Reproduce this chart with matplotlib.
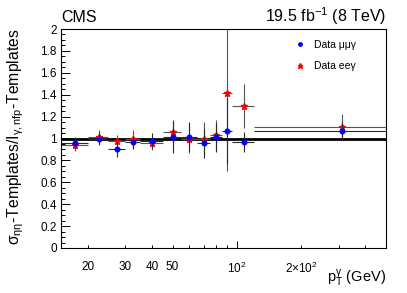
import numpy as np
import matplotlib
matplotlib.use("Agg")
import matplotlib.pyplot as plt
from matplotlib.ticker import FixedLocator, FixedFormatter, MultipleLocator

### données
bin_edges = [15, 20, 25, 30, 35, 45, 55, 65, 75, 85, 95, 120, 500]
mumu_val = [0.962, 1.00, 0.90, 0.965, 0.98, 1.014, 1.017, 0.956, 1.01, 1.07, 0.968, 1.07]
mumu_err = [0.05, 0.06, 0.065, 0.06, 0.07, 0.15, 0.13, 0.13, 0.13, 0.30, 0.09, 0.08]
ee_val = [0.94, 1.017, 0.98, 1.00, 0.956, 1.06, 0.995, 0.998, 1.03, 1.42, 1.30, 1.105]
ee_err = [0.05, 0.06, 0.05, 0.08, 0.06, 0.11, 0.13, 0.15, 0.14, 0.72, 0.20, 0.12]
xtick_vals = [20, 30, 40, 50, 100, 200]
xtick_labels = ['20', '30', '40', '50', r'$10^{2}$', r'$2{\times}10^{2}$']
xminor_vals = [60, 70, 80, 90, 300, 400]

edges = np.array(bin_edges, dtype=float)
centers = 0.5 * (edges[1:] + edges[:-1])
half_w = 0.5 * (edges[1:] - edges[:-1])

plt.rcParams['font.family'] = ['Liberation Sans', 'DejaVu Sans']
plt.rcParams['mathtext.fontset'] = 'custom'
plt.rcParams['mathtext.rm'] = 'Liberation Sans'
plt.rcParams['mathtext.it'] = 'Liberation Sans'
plt.rcParams['mathtext.bf'] = 'Liberation Sans:bold'

fig = plt.figure(figsize=(4.07, 2.93), dpi=100)
ax = fig.add_axes([61/407, 1 - 248/293, 325/407, 219/293])

ax.set_xscale('log')
ax.set_xlim(15, 500)
ax.set_ylim(0, 2)

### ligne de référence à 1
ax.axhline(1.0, color='black', lw=2.0, zorder=1)

eb_mumu = ax.errorbar(centers, mumu_val, xerr=half_w, yerr=mumu_err, fmt='o', color='blue',
                      ms=3.3, ecolor='#2a2a2a', elinewidth=0.8, capsize=0, zorder=3)
eb_ee = ax.errorbar(centers, ee_val, xerr=half_w, yerr=ee_err, fmt='*', color='red',
                    ms=5.0, ecolor='#555555', elinewidth=0.8, capsize=0, zorder=2)

### axes façon ROOT
ax.xaxis.set_major_locator(FixedLocator(xtick_vals))
ax.xaxis.set_major_formatter(FixedFormatter(xtick_labels))
ax.xaxis.set_minor_locator(FixedLocator(xminor_vals))
ax.xaxis.set_minor_formatter(FixedFormatter([''] * len(xminor_vals)))
ax.yaxis.set_major_locator(MultipleLocator(0.2))
ax.yaxis.set_minor_locator(MultipleLocator(0.05))
ax.yaxis.set_major_formatter(plt.FuncFormatter(lambda v, p: '%g' % v))

ax.tick_params(axis='x', which='both', direction='in', length=2.5, width=0.7, top=False,
               labelsize=8.5, pad=9)
ax.tick_params(axis='y', which='major', direction='in', length=6.5, width=0.7, right=False,
               labelsize=8.5, pad=3)
ax.tick_params(axis='y', which='minor', direction='in', length=3, width=0.7, right=False)
ax.xaxis.get_major_ticks()[4].tick1line.set_markersize(5)
for s in ax.spines.values():
    s.set_linewidth(0.8)

ax.set_ylabel(r'$\sigma_{\eta\eta}$-Templates/I$_{\gamma,\mathrm{nfp}}$-Templates', fontsize=11.3, loc='top')
ax.yaxis.set_label_coords(-0.109, 1.0)
ax.set_xlabel(r'p$_{\mathrm{T}}^{\gamma}$ (GeV)', fontsize=10.5, loc='right')
ax.xaxis.set_label_coords(1.0, -0.09)

ax.text(0.0, 1.03, 'CMS', transform=ax.transAxes, fontsize=11.5, ha='left', va='baseline')
ax.text(1.0, 1.03, r'19.5 fb$^{-1}$ (8 TeV)', transform=ax.transAxes, fontsize=11.5,
        ha='right', va='baseline')

ax.legend([eb_mumu[0], eb_ee[0]], [u'Data μμγ', u'Data eeγ'], loc='upper left',
          bbox_to_anchor=(0.705, 0.97), frameon=False, fontsize=7.5, handlelength=1.0,
          handletextpad=0.9, labelspacing=1.1, borderaxespad=0, markerscale=0.75)

fig.savefig('out.png', dpi=100)
